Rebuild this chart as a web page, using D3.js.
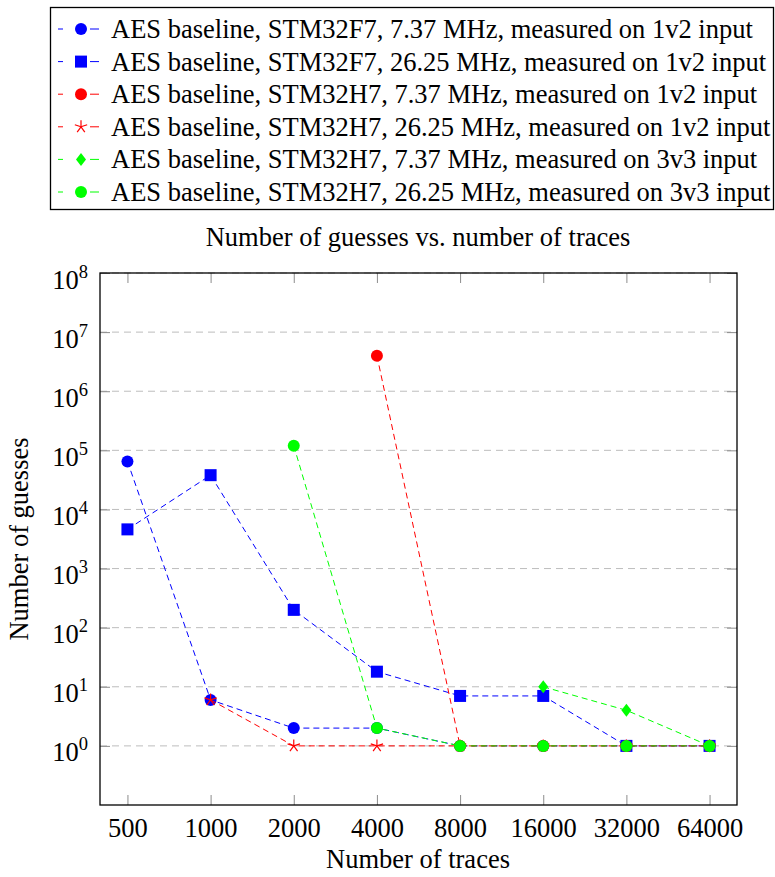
<!DOCTYPE html>
<html>
<head>
<meta charset="utf-8">
<script src="https://cdn.jsdelivr.net/npm/d3@7"></script>
<style>
body { margin: 0; background: #fff; }
text { font-family: "Liberation Serif", "Times New Roman", serif; fill: #000; }
</style>
</head>
<body>
<div id="plot"></div>
<script>

var traces = [500, 1000, 2000, 4000, 8000, 16000, 32000, 64000];
var yTicks = [1, 10, 100, 1e3, 1e4, 1e5, 1e6, 1e7, 1e8];

// number of guesses per series (null = not measured)
var f7Slow12 = [65000, 6, 2, 2, 1, 1, 1, 1];
var f7Fast12 = [4600, 38000, 200, 18, 7, 7, 1, 1];
var h7Slow12 = [null, null, null, 4000000, 1, 1, 1, 1];
var h7Fast12 = [null, 6, 1, 1, 1, 1, 1, 1];
var h7Slow33 = [null, null, null, null, null, 10, 4, 1];
var h7Fast33 = [null, null, 120000, 2, 1, 1, 1, 1];

var seriesNames = [
	"AES baseline, STM32F7, 7.37 MHz, measured on 1v2 input",
	"AES baseline, STM32F7, 26.25 MHz, measured on 1v2 input",
	"AES baseline, STM32H7, 7.37 MHz, measured on 1v2 input",
	"AES baseline, STM32H7, 26.25 MHz, measured on 1v2 input",
	"AES baseline, STM32H7, 7.37 MHz, measured on 3v3 input",
	"AES baseline, STM32H7, 26.25 MHz, measured on 3v3 input"
];

var series = [
	{name: seriesNames[0], values: f7Slow12, color: "#0000ff", mark: "circle"},
	{name: seriesNames[1], values: f7Fast12, color: "#0000ff", mark: "square"},
	{name: seriesNames[2], values: h7Slow12, color: "#ff0000", mark: "circle"},
	{name: seriesNames[3], values: h7Fast12, color: "#ff0000", mark: "star"},
	{name: seriesNames[4], values: h7Slow33, color: "#00ff00", mark: "diamond"},
	{name: seriesNames[5], values: h7Fast33, color: "#00ff00", mark: "circle"}
];

var svg = d3.select("#plot")
	.append("svg")
	.attr("width", 775)
	.attr("height", 877);

var pLeft = 100, pRight = 737, pTop = 273, pBottom = 805;
var fs = "26.5px";

var x = d3.scalePoint()
	.domain(traces)
	.range([pLeft, pRight])
	.padding(0.33);

var y = d3.scaleLog()
	.domain([0.1, 1e8])
	.range([pBottom, pTop]);

// grid
svg.append("g")
	.selectAll("line")
	.data(yTicks)
	.join("line")
	.attr("x1", pLeft)
	.attr("x2", pRight)
	.attr("y1", d => y(d))
	.attr("y2", d => y(d))
	.style("stroke", "#bdbdbd")
	.style("stroke-width", 1)
	.style("stroke-dasharray", "7,5");

// ticks (inward)
function tickStyle(g) {
	g.select(".domain").remove();
	g.selectAll(".tick line").style("stroke", "#8c8c8c").style("stroke-width", 1);
}

svg.append("g")
	.attr("transform", "translate(0," + pBottom + ")")
	.call(d3.axisBottom(x).tickSizeInner(-10).tickSizeOuter(0).tickPadding(13))
	.call(tickStyle)
	.call(g => g.selectAll("text").style("font-size", fs)
		.style("font-family", "'Liberation Serif', serif").attr("fill", "#000"));

svg.append("g")
	.attr("transform", "translate(0," + pTop + ")")
	.call(d3.axisTop(x).tickSizeInner(-10).tickSizeOuter(0).tickFormat(""))
	.call(tickStyle);

svg.append("g")
	.attr("transform", "translate(" + pRight + ",0)")
	.call(d3.axisRight(y).tickValues(yTicks).tickSizeInner(-10).tickSizeOuter(0).tickFormat(""))
	.call(tickStyle);

var yAxis = svg.append("g")
	.attr("transform", "translate(" + pLeft + ",0)")
	.call(d3.axisLeft(y).tickValues(yTicks).tickSizeInner(-10).tickSizeOuter(0).tickFormat(""))
	.call(tickStyle);

yAxis.selectAll(".tick").each(function(d) {
	var t = d3.select(this).append("text")
		.attr("x", -12)
		.attr("y", 15)
		.attr("text-anchor", "end")
		.style("font-size", fs);
	t.append("tspan").text("10");
	t.append("tspan")
		.attr("dy", -11)
		.style("font-size", "18.5px")
		.text(Math.round(Math.log10(d)));
});

// frame
svg.append("rect")
	.attr("x", pLeft)
	.attr("y", pTop)
	.attr("width", pRight - pLeft)
	.attr("height", pBottom - pTop)
	.style("fill", "none")
	.style("stroke", "#000")
	.style("stroke-width", 1.3);

// markers
function drawMark(g, mark, color) {
	if (mark == "circle") {
		g.append("circle").attr("r", 6).style("fill", color);
	} else if (mark == "square") {
		g.append("rect").attr("x", -6).attr("y", -6).attr("width", 12).attr("height", 12).style("fill", color);
	} else if (mark == "diamond") {
		g.append("path").attr("d", "M0,-6.5L5,0L0,6.5L-5,0Z").style("fill", color);
	} else if (mark == "star") {
		for (var a = 0; a < 5; a++) {
			var th = (a * 72 - 90) * Math.PI / 180;
			g.append("line")
				.attr("x1", 0).attr("y1", 0)
				.attr("x2", 6.5 * Math.cos(th)).attr("y2", 6.5 * Math.sin(th))
				.style("stroke", color).style("stroke-width", 1.2);
		}
	}
}

var line = d3.line()
	.defined(d => d.v != null)
	.x(d => x(d.t))
	.y(d => y(d.v));

series.forEach(function(s) {
	var pts = traces.map((t, i) => ({t: t, v: s.values[i]}));
	svg.append("path")
		.datum(pts)
		.attr("d", line)
		.style("fill", "none")
		.style("stroke", s.color)
		.style("stroke-width", 1)
		.style("stroke-dasharray", "6,4");
	pts.filter(p => p.v != null).forEach(function(p) {
		var g = svg.append("g").attr("transform", "translate(" + x(p.t) + "," + y(p.v) + ")");
		drawMark(g, s.mark, s.color);
	});
});

// title and axis labels
svg.append("text")
	.attr("x", 418)
	.attr("y", 246)
	.attr("text-anchor", "middle")
	.style("font-size", fs)
	.text("Number of guesses vs. number of traces");

svg.append("text")
	.attr("x", 418)
	.attr("y", 868)
	.attr("text-anchor", "middle")
	.style("font-size", fs)
	.text("Number of traces");

svg.append("text")
	.attr("transform", "translate(28," + ((pTop + pBottom) / 2) + ") rotate(-90)")
	.attr("text-anchor", "middle")
	.style("font-size", fs)
	.text("Number of guesses");

// legend
var legend = svg.append("g");
legend.append("rect")
	.attr("x", 50.5)
	.attr("y", 7.5)
	.attr("width", 723)
	.attr("height", 202)
	.style("fill", "#fff")
	.style("stroke", "#000")
	.style("stroke-width", 1.3);

series.forEach(function(s, i) {
	var cy = 29 + i * 32.6;
	legend.append("line")
		.attr("x1", 58).attr("x2", 99)
		.attr("y1", cy).attr("y2", cy)
		.style("stroke", s.color)
		.style("stroke-width", 1)
		.style("stroke-dasharray", "5,27,9,50");
	var g = legend.append("g").attr("transform", "translate(81," + cy + ")");
	drawMark(g, s.mark, s.color);
	legend.append("text")
		.attr("x", 111)
		.attr("y", cy + 9)
		.style("font-size", fs)
		.text(s.name);
});

</script>
</body>
</html>
